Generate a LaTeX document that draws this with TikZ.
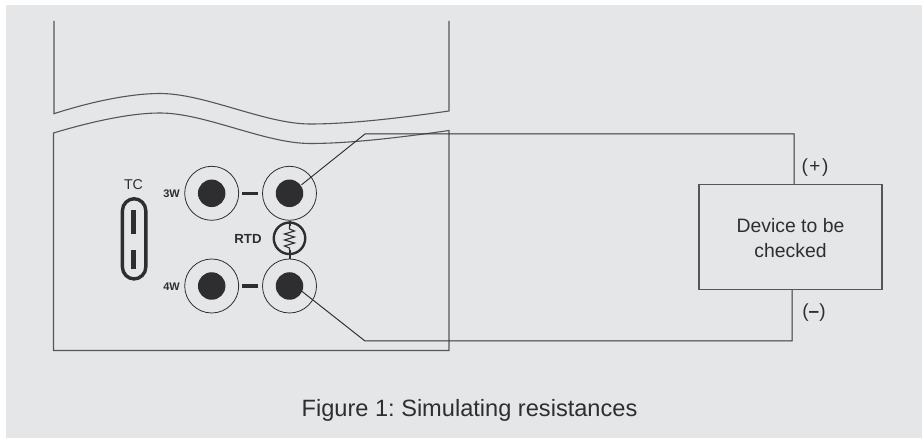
\documentclass[tikz,border=0pt]{standalone}
\usepackage{fontspec}
\setmainfont{Liberation Sans}
\frenchspacing
\definecolor{panel}{HTML}{E5E6E8}
\definecolor{ink}{HTML}{2E2E30}
\definecolor{wire}{HTML}{333335}
\definecolor{rail}{HTML}{56565A}
\tikzset{
  jack/.style={circle,draw=ink,line width=.8pt,minimum size=54pt,inner sep=0pt,fill=none},
  pin/.style={circle,fill=ink,minimum size=27.5pt,inner sep=0pt},
  link/.style={ink,line width=3.2pt},
  wireline/.style={wire,line width=1pt,line join=miter},
  outline/.style={rail,line width=1.1pt,line join=miter},
  lbl/.style={text=ink,inner sep=0pt},
  tiny/.style={lbl,font=\bfseries\fontsize{11}{12}\selectfont},
}
\begin{document}
\begin{tikzpicture}[x=1pt,y=-1pt]
\useasboundingbox (0,0) rectangle (922,438);
\fill[panel] (6,5) rectangle (922,438);
% upper part of the instrument
\draw[outline] (54,21) -- (54,113.7) .. controls (90,102) and (130,93.5) .. (160,93.5)
  .. controls (205,93.5) and (265,124) .. (310,124) .. controls (350,124) and (400,118) .. (449,111) -- (449,21);
% lower part of the instrument
\draw[outline] (53.5,133) .. controls (90,122) and (130,113) .. (160,113)
  .. controls (205,113) and (265,143.5) .. (310,143.5) .. controls (350,143.5) and (400,137.5) .. (449,130.5)
  -- (449,350.5) -- (53.5,350.5) -- cycle;
% terminals
\node[jack] (j3a) at (211.7,193.3) {};
\node[jack] (j3b) at (289.5,193.3) {};
\node[jack] (j4a) at (211.7,286) {};
\node[jack] (j4b) at (289.5,286) {};
\node[pin] (p3a) at (j3a) {};
\node[pin] (p3b) at (j3b) {};
\node[pin] (p4a) at (j4a) {};
\node[pin] (p4b) at (j4b) {};
\draw[link] (242,193.3) -- (258,193.3);
\draw[link] (242,286) -- (258,286);
% RTD symbol
\node[circle,draw=ink,line width=2.4pt,minimum size=31.5pt,inner sep=0pt] (rtd) at (289.5,238.3) {};
\draw[ink,line width=2pt] (j3b.south) -- (289.5,226);
\draw[ink,line width=2pt] (289.5,250.5) -- (j4b.north);
\draw[ink,line width=1.1pt,line join=miter] (289.5,226) -- (289.5,229) -- (294.5,231) -- (284.5,234) -- (294.5,237) -- (284.5,240) -- (294.5,243) -- (284.5,246) -- (289.5,248) -- (289.5,250.5);
% TC socket
\draw[ink,line width=3.4pt,rounded corners=12pt] (122.4,198.7) rectangle (145.8,279);
\fill[ink] (131,210) rectangle (136.3,234);
\fill[ink] (131,250) rectangle (136.3,268.7);
% device
\node[draw=rail,line width=1.1pt,minimum width=183pt,minimum height=105pt,inner sep=0pt,align=center,text=ink,font=\fontsize{19.4}{24.5}\selectfont] (dev) at (790.5,237) {\rule{0pt}{16pt}Device to be\\checked};
% wires
\coordinate (t1) at (365,134);
\coordinate (t2) at (794,134);
\coordinate (b1) at (365,341);
\coordinate (b2) at (792,341);
\draw[wireline] (p3b.center) ++(12,-8.5) -- (t1) -- (t2) -- (t2 |- dev.north);
\draw[wireline] (p4b.center) ++(12,5) -- (b1) -- (b2) -- (b2 |- dev.south);
% labels
\node[lbl,font=\fontsize{14.2}{15}\selectfont] (tc) at (133.5,185) {TC};
\node[tiny] (w3) at (171.5,194) {3W};
\node[tiny] (w4) at (171.5,286.5) {4W};
\node[lbl,font=\bfseries\fontsize{13.2}{14}\selectfont] (rt) at (248,238.5) {RTD};
\node[lbl,font=\fontsize{19}{20}\selectfont] (plus) at (815,168) {(\hspace{1.5pt}+\hspace{1.5pt})};
\node[lbl,font=\fontsize{19}{20}\selectfont] (minus) at (814,312.5) {(\textbf{--})};
\node[lbl,font=\fontsize{23.6}{26}\selectfont] (cap) at (469.5,410) {Figure 1: Simulating resistances};
\end{tikzpicture}
\end{document}
